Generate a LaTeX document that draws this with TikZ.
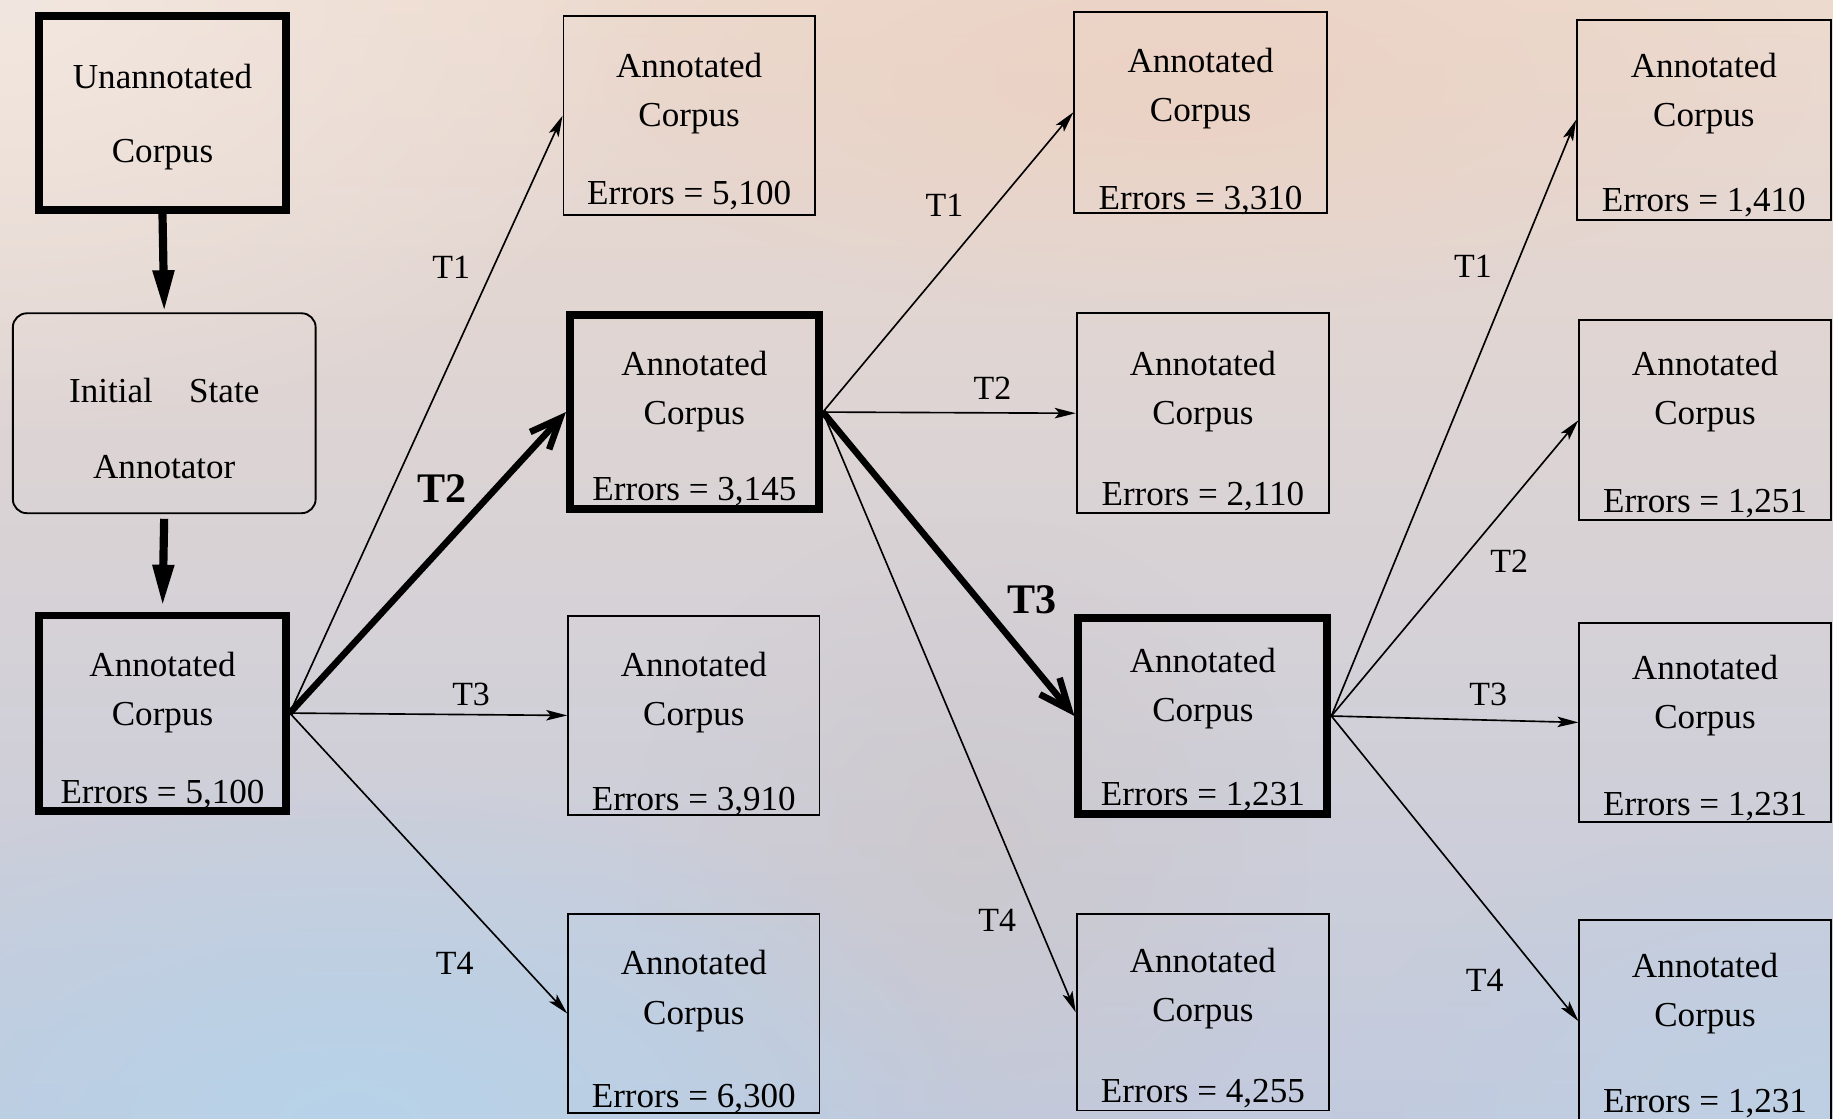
\documentclass[tikz,border=0pt]{standalone}
\usepackage{fontspec}
\setmainfont{Liberation Serif}
\usetikzlibrary{arrows.meta,fadings}

\definecolor{bgtop}{HTML}{EDDACE}
\definecolor{bgmid}{HTML}{D8B4C7}
\definecolor{bgbot}{HTML}{C2CADD}
\definecolor{cream}{HTML}{F2E7E0}
\definecolor{skyblue}{HTML}{B7D3E9}
\definecolor{paleblue}{HTML}{BFD0E4}
\definecolor{peach}{HTML}{EBD2C4}
\definecolor{greyish}{HTML}{CDC5C6}

\tikzfading[name=blob, inner color=transparent!0, outer color=transparent!100]

% one "Annotated Corpus" box: name, style, x1, y1, x2, y2 (border path),
% error count, baseline of the first line, baseline of the error line
\newcommand\corpusbox[9]{%
  \node[#2, minimum width={(#5-#3)*0.5pt}, minimum height={(#6-#4)*0.5pt}]
    (#1) at ({(#3+#5)/2},{(#4+#6)/2}) {};
  \node[txt] (#1-l1) at ({(#3+#5)/2},{#8}) {Annotated};
  \node[txt] (#1-l2) at ({(#3+#5)/2},{#8+42}) {Corpus};
  \node[txt] (#1-l3) at ({(#3+#5)/2},{#9}) {Errors = #7};
}

\begin{document}
\begin{tikzpicture}[x=0.5pt,y=-0.5pt,
  every node/.style={inner sep=0pt},
  txt/.style={font=\fontsize{15}{18}\selectfont, anchor=base},
  thinbox/.style={draw=black, line width=0.8pt, rectangle},
  thickbox/.style={draw=black, line width=3.4pt, rectangle},
  roundbox/.style={draw=black, line width=0.8pt, rectangle, rounded corners=6pt},
  tlab/.style={font=\fontsize{14.5}{17}\selectfont},
  tlabbold/.style={font=\bfseries\fontsize{18}{21}\selectfont},
  thinarrow/.style={line width=0.7pt, -{Stealth[length=9pt,width=4.5pt,inset=2pt]}},
  boldarrow/.style={line width=2.8pt, -{Straight Barb[length=13pt,width=11pt]}},
  downarrow/.style={line width=3.5pt, -{Triangle[length=18pt,width=8.5pt]}},
]
\useasboundingbox (0,0) rectangle (1568,956.4);

% background wash
\begin{scope}
  \clip (0,0) rectangle (1568,956.4);
  \shade[top color=bgtop, middle color=bgmid, bottom color=bgbot] (0,0) rectangle (1568,956.4);
  \fill[cream, path fading=blob] (0,0) ellipse [x radius=600, y radius=380];
  \fill[peach, path fading=blob] (1000,70) ellipse [x radius=550, y radius=200];
  \fill[greyish, path fading=blob, opacity=0.55] (830,730) ellipse [x radius=290, y radius=290];
  \fill[skyblue, path fading=blob] (300,960) ellipse [x radius=560, y radius=300];
  \fill[paleblue, path fading=blob] (1560,960) ellipse [x radius=420, y radius=260];
\end{scope}

% left column
\node[thickbox, minimum width=105.5pt, minimum height=83pt] (u) at (139,96.5) {};
\node[txt] (u-l1) at (139,76) {Unannotated};
\node[txt] (u-l2) at (139,139) {Corpus};

\node[roundbox, minimum width=129.5pt, minimum height=85.5pt] (isa) at (140.5,353.5) {};
\node[txt] (isa-l1) at (140.5,344) {Initial\hspace{15.5pt}State};
\node[txt] (isa-l2) at (140.5,409) {Annotator};

\corpusbox{ac0}{thickbox}{33.5}{526.5}{244.5}{693.5}{5,100}{579}{687}

% second column
\corpusbox{a1}{thinbox}{482}{14}{697}{184}{5,100}{66}{175}
\corpusbox{a2}{thickbox}{487.5}{269.5}{700.5}{435.5}{3,145}{321}{428}
\corpusbox{a3}{thinbox}{486}{527}{701}{697}{3,910}{579}{693}
\corpusbox{a4}{thinbox}{486}{782}{701}{952}{6,300}{834}{947}

% third column
\corpusbox{b1}{thinbox}{919}{10}{1135}{182}{3,310}{62}{179}
\corpusbox{b2}{thinbox}{921}{268}{1137}{439}{2,110}{321}{432}
\corpusbox{b3}{thickbox}{922.5}{528.5}{1135.5}{696.5}{1,231}{575}{689}
\corpusbox{b4}{thinbox}{921}{782}{1137}{950}{4,255}{832}{943}

% fourth column
\corpusbox{c1}{thinbox}{1349}{17}{1566}{188}{1,410}{66}{181}
\corpusbox{c2}{thinbox}{1351}{274}{1566}{445}{1,251}{321}{438}
\corpusbox{c3}{thinbox}{1351}{533}{1566}{703}{1,231}{581}{698}
\corpusbox{c4}{thinbox}{1351}{787}{1566}{960}{1,231}{836}{952}

% initial annotation
\draw[downarrow] (u.south) -- (isa.north);
\draw[downarrow, shorten <=2pt, shorten >=2pt] (isa.south) -- (ac0.north);

% transformations tried from each selected corpus
\draw[thinarrow] (ac0.east) -- (a1.west);
\draw[boldarrow] (ac0.east) -- (a2.west);
\draw[thinarrow] (ac0.east) -- (a3.west);
\draw[thinarrow] (ac0.east) -- (a4.west);

\draw[thinarrow] (a2.east) -- (b1.west);
\draw[thinarrow] (a2.east) -- (b2.west);
\draw[boldarrow] (a2.east) -- (b3.west);
\draw[thinarrow] (a2.east) -- (b4.west);

\draw[thinarrow] (b3.east) -- (c1.west);
\draw[thinarrow] (b3.east) -- (c2.west);
\draw[thinarrow] (b3.east) -- (c3.west);
\draw[thinarrow] (b3.east) -- (c4.west);

% transformation labels
\node[tlab] (t11) at (386,229) {T1};
\node[tlabbold] (t12) at (378,418) {T2};
\node[tlab] (t13) at (403,594) {T3};
\node[tlab] (t14) at (389,824) {T4};

\node[tlab] (t21) at (808,176) {T1};
\node[tlab] (t22) at (849,332) {T2};
\node[tlabbold] (t23) at (883,513) {T3};
\node[tlab] (t24) at (853,787) {T4};

\node[tlab] (t31) at (1260,228) {T1};
\node[tlab] (t32) at (1291,480) {T2};
\node[tlab] (t33) at (1273,594) {T3};
\node[tlab] (t34) at (1270,839) {T4};
\end{tikzpicture}
\end{document}
